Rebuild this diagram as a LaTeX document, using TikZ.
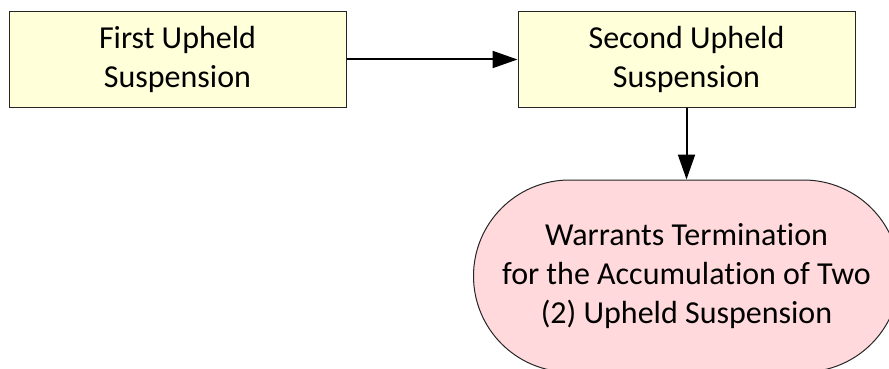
\documentclass[tikz,border=0pt]{standalone}
\usepackage{fontspec}
\setmainfont[Ligatures=NoCommon]{Carlito}
\usepackage{tikz}
\usetikzlibrary{arrows.meta,positioning}

\definecolor{boxfill}{HTML}{FFFFDA}
\definecolor{termfill}{HTML}{FFD9DB}

\begin{document}
\begin{tikzpicture}[x=1pt,y=-1pt,node distance=171pt,
                    box node/.style={rectangle,draw=black!85,line width=1pt,fill=boxfill,
                      minimum width=337pt,minimum height=95pt,align=center,
                      font=\fontsize{32}{39}\selectfont},
                    term node/.style={rectangle,rounded corners=96pt,draw=black!85,line width=1pt,
                      fill=termfill,minimum width=426pt,minimum height=192pt,align=center,
                      font=\fontsize{32}{39}\selectfont}]
  \useasboundingbox (0,0) rectangle (889,369);

  \node[box node] (first) at (177.5,59.5) {First Upheld\\Suspension};
  \node[box node] (second) [right=of first] {Second Upheld\\Suspension};
  \node[term node] (term) [below=72pt of second] {Warrants Termination\\for the Accumulation of Two\\(2) Upheld Suspension};

  \path[-{Triangle[length=25pt,width=17pt]},line width=2pt]
    (first) edge (second)
    (second) edge (term);
\end{tikzpicture}
\end{document}
